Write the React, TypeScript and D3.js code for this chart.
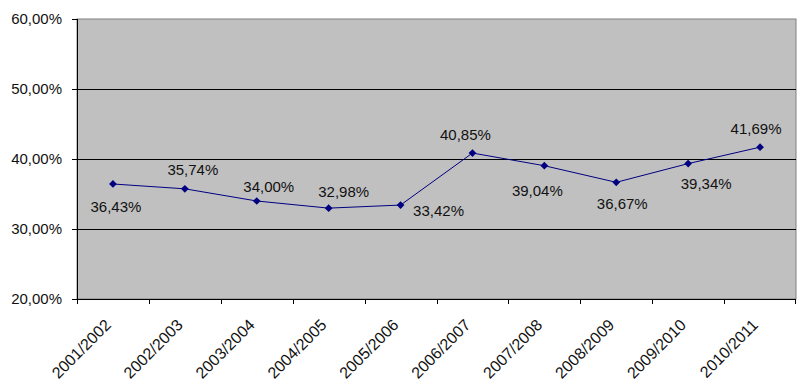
import * as d3 from "d3";

const seasons = [
  "2001/2002", "2002/2003", "2003/2004", "2004/2005", "2005/2006",
  "2006/2007", "2007/2008", "2008/2009", "2009/2010", "2010/2011",
];
const shares = [36.43, 35.74, 34.0, 32.98, 33.42, 40.85, 39.04, 36.67, 39.34, 41.69];
const yTicks = [20, 30, 40, 50, 60];
// where each value label sits relative to its point
const labelShift: [number, number][] = [
  [3, 23], [8, -19], [12, -14], [15, -16], [38, 6],
  [-7, -18], [-7, 25], [6, 21], [18, 20], [-4, -18],
];

const W = 800;
const H = 384;
const plot = { left: 77, right: 796, top: 19, bottom: 299 };

const fmt = (v: number, digits = 2) => v.toFixed(digits).replace(".", ",") + "%";

export default function App() {
  const x = d3.scaleBand().domain(seasons).range([plot.left, plot.right]);
  const y = d3.scaleLinear().domain([20, 60]).range([plot.bottom, plot.top]);
  const cx = (i: number) => (x(seasons[i]) ?? 0) + x.bandwidth() / 2;

  const line = d3
    .line<number>()
    .x((d, i) => cx(i))
    .y((d) => y(d));

  const marker = d3.symbol(d3.symbolSquare, 30)() ?? "";
  const font = "Arial, 'Liberation Sans', sans-serif";

  return (
    <svg width={W} height={H} style={{ position: "absolute", left: 0, top: 0, background: "#fff" }} fontFamily={font}>
      <rect x={plot.left} y={plot.top} width={plot.right - plot.left} height={plot.bottom - plot.top}
        fill="#c0c0c0" stroke="#808080" strokeWidth={1} />
      {yTicks.map((t) => (
        <g key={t}>
          {t > 20 && t < 60 && (
            <line x1={plot.left} x2={plot.right} y1={Math.round(y(t)) + 0.5} y2={Math.round(y(t)) + 0.5}
              stroke="#000" strokeWidth={1} />
          )}
          <line x1={plot.left - 5} x2={plot.left} y1={Math.round(y(t)) + 0.5} y2={Math.round(y(t)) + 0.5} stroke="#000" />
          <text x={62} y={y(t)} dy="0.35em" textAnchor="end" fontSize={15} fill="#111">{fmt(t)}</text>
        </g>
      ))}
      <line x1={plot.left + 0.5} x2={plot.left + 0.5} y1={plot.top} y2={plot.bottom} stroke="#000" />
      <line x1={plot.left} x2={plot.right} y1={plot.bottom + 0.5} y2={plot.bottom + 0.5} stroke="#000" />
      {seasons.map((s) => {
        const bx = Math.round(x(s) ?? 0) + 0.5;
        return <line key={s} x1={bx} x2={bx} y1={plot.bottom} y2={plot.bottom + 5} stroke="#000" />;
      })}
      <line x1={plot.right - 0.5} x2={plot.right - 0.5} y1={plot.bottom} y2={plot.bottom + 5} stroke="#000" />
      {seasons.map((s, i) => (
        <text key={s} transform={`translate(${cx(i) - 1},${326}) rotate(-45)`} textAnchor="end"
          fontSize={16} fill="#111">{s}</text>
      ))}
      <path d={line(shares) ?? ""} fill="none" stroke="#000080" strokeWidth={1} />
      {shares.map((v, i) => (
        <path key={i} d={marker} transform={`translate(${cx(i)},${y(v)}) rotate(45)`} fill="#000080" />
      ))}
      {shares.map((v, i) => (
        <text key={i} x={cx(i) + labelShift[i][0]} y={y(v) + labelShift[i][1]} dy="0.35em"
          textAnchor="middle" fontSize={15} fill="#111">{fmt(v)}</text>
      ))}
    </svg>
  );
}
